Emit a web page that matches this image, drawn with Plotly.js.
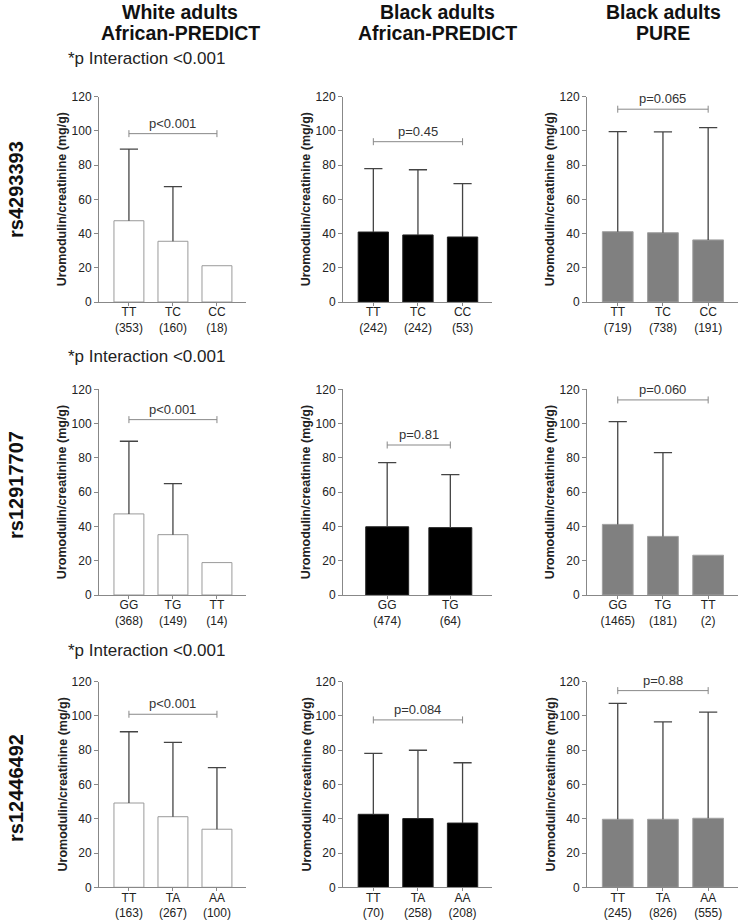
<!DOCTYPE html>
<html>
<head>
<meta charset="utf-8">
<script src="https://cdn.plot.ly/plotly-3.0.1.min.js"></script>
<style>
  body { margin: 0; background: #fff; }
  #chart { width: 740px; height: 921px; }
</style>
</head>
<body>
<div id="chart"></div>
<script>
const colTitles = [['White adults', 'African-PREDICT'], ['Black adults', 'African-PREDICT'], ['Black adults', 'PURE']];
const rowSnps = ['rs4293393', 'rs12917707', 'rs12446492'];
const interactionText = '*p Interaction <0.001';
const yTitle = 'Uromodulin/creatinine (mg/g)';

// rs4293393
const geno1 = ['TT', 'TC', 'CC'];
const whiteMean1 = [47.5, 35.5, 21.2];
const whiteUpper1 = [89.4, 67.4, 21.2];
const whiteN1 = [353, 160, 18];
const blackMean1 = [40.9, 39.2, 38.0];
const blackUpper1 = [78.0, 77.3, 69.2];
const blackN1 = [242, 242, 53];
const pureMean1 = [41.1, 40.5, 36.3];
const pureUpper1 = [99.6, 99.4, 101.9];
const pureN1 = [719, 738, 191];

// rs12917707
const geno2 = ['GG', 'TG', 'TT'];
const geno2b = ['GG', 'TG'];
const whiteMean2 = [47.3, 35.2, 18.9];
const whiteUpper2 = [89.7, 65.0, 18.9];
const whiteN2 = [368, 149, 14];
const blackMean2 = [39.8, 39.3];
const blackUpper2 = [77.2, 70.2];
const blackN2 = [474, 64];
const pureMean2 = [41.2, 34.2, 23.2];
const pureUpper2 = [101.1, 83.0, 23.2];
const pureN2 = [1465, 181, 2];

// rs12446492
const geno3 = ['TT', 'TA', 'AA'];
const whiteMean3 = [49.2, 41.2, 33.9];
const whiteUpper3 = [90.8, 84.6, 69.8];
const whiteN3 = [163, 267, 100];
const blackMean3 = [42.6, 40.1, 37.5];
const blackUpper3 = [78.2, 80.0, 72.7];
const blackN3 = [70, 258, 208];
const pureMean3 = [39.7, 39.7, 40.3];
const pureUpper3 = [107.4, 96.5, 102.3];
const pureN3 = [245, 826, 555];

const pLabels = [['p<0.001', 'p=0.45', 'p=0.065'], ['p<0.001', 'p=0.81', 'p=0.060'], ['p<0.001', 'p=0.084', 'p=0.88']];
const bracketY = [[98.4, 93.7, 112.7], [102.3, 87.5, 113.8], [101.0, 97.7, 114.8]];

const panels = [
    [[geno1, whiteMean1, whiteUpper1, whiteN1], [geno1, blackMean1, blackUpper1, blackN1], [geno1, pureMean1, pureUpper1, pureN1]],
    [[geno2, whiteMean2, whiteUpper2, whiteN2], [geno2b, blackMean2, blackUpper2, blackN2], [geno2, pureMean2, pureUpper2, pureN2]],
    [[geno3, whiteMean3, whiteUpper3, whiteN3], [geno3, blackMean3, blackUpper3, blackN3], [geno3, pureMean3, pureUpper3, pureN3]]
];

const W = 740, H = 921;
const colPx = [[99, 246], [343, 492], [587, 738]];
const rowPx = [[96.7, 302], [389.3, 595], [681.7, 887.3]];
const barFill = ['#ffffff', '#000000', '#808080'];
const barLine = ['#9a9a9a', '#222222', '#a0a0a0'];
const FONT = 'Arial, "Liberation Sans", sans-serif';

const traces = [];
const annotations = [];
const layout = {
    width: W, height: H,
    margin: { l: 0, r: 0, t: 0, b: 0 },
    paper_bgcolor: '#fff', plot_bgcolor: '#fff',
    showlegend: false,
    font: { family: FONT, color: '#222' },
    annotations: annotations
};

panels.forEach((row, r) => {
    row.forEach(([geno, mean, upper, n], c) => {
        const k = r * 3 + c + 1;
        const sfx = k === 1 ? '' : String(k);
        const xa = 'x' + sfx;
        const ya = 'y' + sfx;
        const idx = geno.map((_, i) => i);
        const last = geno.length - 1;

        traces.push({
            type: 'bar', x: idx, y: mean, width: 0.68,
            xaxis: xa, yaxis: ya,
            marker: { color: barFill[c], line: { color: barLine[c], width: 1 } },
            hoverinfo: 'skip'
        });

        // upper-only SD whiskers, starting at the bar top
        const ex = [], ey = [], cx = [], cy = [];
        idx.forEach(i => {
            if (upper[i] > mean[i]) {
                ex.push(i, i, null);
                ey.push(mean[i], upper[i], null);
                cx.push(i);
                cy.push(upper[i]);
            }
        });
        traces.push({
            type: 'scatter', mode: 'lines', x: ex, y: ey,
            xaxis: xa, yaxis: ya, connectgaps: false,
            line: { color: '#444', width: 1.3 }, hoverinfo: 'skip'
        });
        traces.push({
            type: 'scatter', mode: 'markers', x: cx, y: cy,
            xaxis: xa, yaxis: ya,
            marker: { symbol: 'line-ew-open', size: 13, color: '#444', line: { color: '#444', width: 1.3 } },
            hoverinfo: 'skip'
        });

        traces.push({
            type: 'scatter', mode: 'lines+markers',
            x: [0, last], y: [bracketY[r][c], bracketY[r][c]],
            xaxis: xa, yaxis: ya, cliponaxis: false,
            line: { color: '#888', width: 1 },
            marker: { symbol: 'line-ns-open', size: 5, color: '#888', line: { color: '#888', width: 1 } },
            hoverinfo: 'skip'
        });

        annotations.push({
            xref: xa, yref: ya, x: last / 2, y: bracketY[r][c],
            text: pLabels[r][c], showarrow: false, xanchor: 'center', yanchor: 'bottom', yshift: 1,
            font: { size: 13, color: '#333' }
        });

        const [x0, x1] = colPx[c];
        const [y0, y1] = rowPx[r];
        layout['xaxis' + sfx] = {
            domain: [x0 / W, x1 / W], anchor: ya,
            range: last === 1 ? [-0.7, 1.66] : [-0.68, 2.66],
            tickmode: 'array', tickvals: idx,
            ticktext: geno.map((g, i) => g + '<br>(' + n[i] + ')'),
            ticks: 'outside', ticklen: 3, tickcolor: '#888',
            ticklabelstandoff: -4,
            showline: true, linecolor: '#888', linewidth: 1,
            showgrid: false, zeroline: false, fixedrange: true,
            tickfont: { size: 12, color: '#222' }
        };

        layout['yaxis' + sfx] = {
            domain: [1 - y1 / H, 1 - y0 / H], anchor: xa,
            range: [0, 120], tickvals: [0, 20, 40, 60, 80, 100, 120],
            ticks: 'outside', ticklen: 4, tickcolor: '#888',
            showline: true, linecolor: '#888', linewidth: 1,
            showgrid: false, zeroline: false, fixedrange: true,
            tickfont: { size: 12, color: '#222' }
        };

        annotations.push({
            xref: 'paper', yref: 'paper',
            x: (x0 - 37) / W, y: 1 - ((y0 + y1) / 2) / H,
            xanchor: 'center', yanchor: 'middle',
            text: '<b>' + yTitle + '</b>', textangle: -90, showarrow: false,
            font: { size: 12.5, color: '#222' }
        });
    });
});

const titleX = [180, 438, 663];
colTitles.forEach((lines, c) => {
    lines.forEach((line, j) => {
        annotations.push({
            xref: 'paper', yref: 'paper', x: titleX[c] / W, y: 1 - (12 + j * 21) / H,
            xanchor: 'center', yanchor: 'middle',
            text: '<b>' + line + '</b>', showarrow: false,
            font: { size: 19.5, color: '#111' }
        });
    });
});

const interY = [58, 356.7, 650];
const rowLabelY = [190, 485, 788];
rowSnps.forEach((snp, r) => {
    annotations.push({
        xref: 'paper', yref: 'paper', x: 146 / W, y: 1 - interY[r] / H,
        xanchor: 'center', yanchor: 'middle',
        text: interactionText, showarrow: false,
        font: { size: 17, color: '#222' }
    });
    annotations.push({
        xref: 'paper', yref: 'paper', x: 16 / W, y: 1 - rowLabelY[r] / H,
        xanchor: 'center', yanchor: 'middle',
        text: '<b>' + snp + '</b>', textangle: -90, showarrow: false,
        font: { size: 20, color: '#111' }
    });
});

Plotly.newPlot('chart', traces, layout, { staticPlot: true });
</script>
</body>
</html>
